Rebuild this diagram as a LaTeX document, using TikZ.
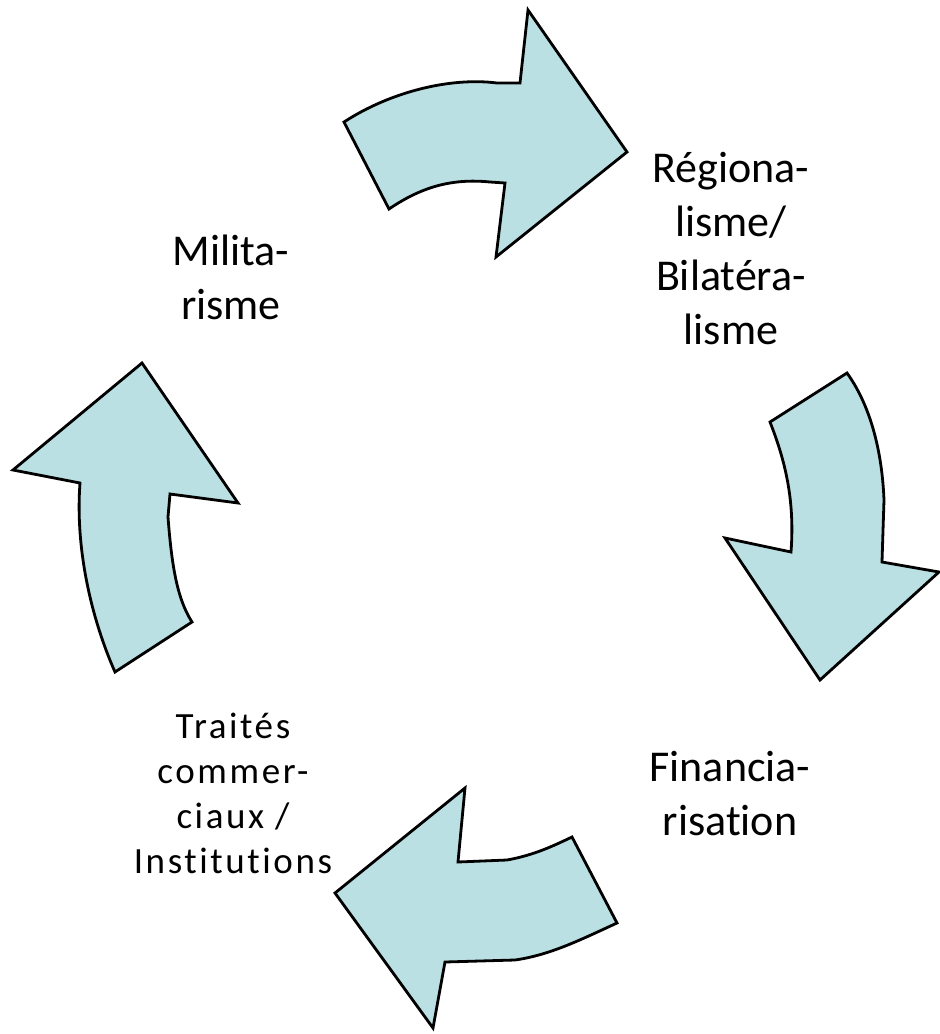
\documentclass[tikz,border=0pt]{standalone}
\usepackage{fontspec}
\setmainfont[Ligatures=NoCommon]{Carlito}
\newfontfamily\spacedfont[LetterSpace=7,Ligatures=NoCommon]{Carlito}
\definecolor{arrowfill}{RGB}{187,224,227}
\begin{document}
\begin{tikzpicture}[x=1pt,y=-1pt,
  bigarrow/.style={fill=arrowfill,draw=black,line width=2.8pt,line join=miter},
  lbl/.style={align=center,inner sep=0pt,anchor=base,font=\fontsize{44}{54}\selectfont},
  lblsmall/.style={align=center,inner sep=0pt,anchor=base,font=\spacedfont\fontsize{37}{45}\selectfont}]
\useasboundingbox (0,0) rectangle (940,1034);
% top arrow (pointing right)
\draw[bigarrow] (528,10) -- (627,152) -- (496,257) -- (505,183) -- (490,182)
  .. controls (450,178) and (420,188) .. (389,209) -- (344,122)
  .. controls (390,92) and (450,77) .. (497,83) -- (520,83) -- cycle;
% right arrow (pointing down)
\draw[bigarrow] (847,373) -- (770,422) .. controls (785,460) and (795,500) .. (791,552)
  -- (725,538) -- (820,680) -- (939,572) -- (882,562) -- (884,500)
  .. controls (882,450) and (870,405) .. (847,373) -- cycle;
% bottom arrow (pointing left)
\draw[bigarrow] (465,788) -- (458,862) -- (507,860) .. controls (535,855) and (555,845) .. (572,837)
  -- (617,923) .. controls (580,940) and (550,955) .. (515,960) -- (445,962)
  -- (433,1028) -- (335,893) -- cycle;
% left arrow (pointing up)
\draw[bigarrow] (142,363) -- (238,503) -- (170,494) -- (168,517)
  .. controls (172,570) and (178,600) .. (192,622) -- (115,672)
  .. controls (92,620) and (75,550) .. (80,483) -- (13,470) -- cycle;
% labels (anchor base = baseline of the last line)
\node[lbl] (mil) at (231,319) {Milita-\\risme};
\node[lbl] (reg) at (731,344) {Régiona-\\lisme/\\Bilatéra-\\lisme};
\node[lbl] (fin) at (730,835) {Financia-\\risation};
\node[lblsmall] (tra) at (233,873) {Traités\\commer-\\ciaux /\\Institutions};
\end{tikzpicture}
\end{document}
